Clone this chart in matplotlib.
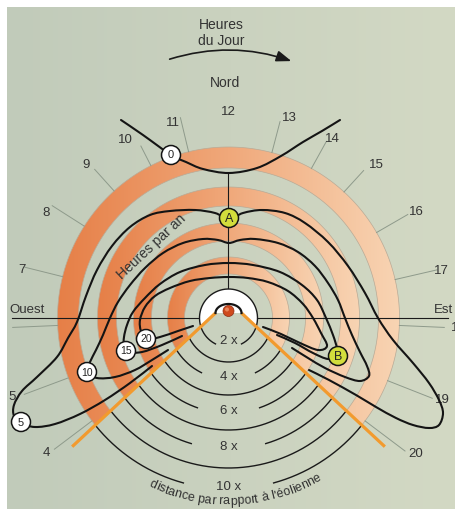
import numpy as np
import matplotlib
matplotlib.use("Agg")
import matplotlib.pyplot as plt
from matplotlib.path import Path
from matplotlib.patches import Circle, Polygon, PathPatch, FancyArrowPatch
from matplotlib.colors import LinearSegmentedColormap
from matplotlib.font_manager import FontProperties, findfont
from matplotlib.ft2font import FT2Font
from matplotlib.transforms import Bbox

plt.rcParams['font.family'] = ['Liberation Sans', 'DejaVu Sans']

# sheet size in px, y runs downwards
W, H = 456, 509
MARGIN = 7
# turbine position
CX, CY = 228.5, 318

# distance circles (multiples of turbine height) -> radius in px
DIST_RADII = [29, 44, 61, 77, 95, 112, 131, 150, 171]
DIST_LABELS = ["2 x", "4 x", "6 x", "8 x", "10 x"]
LABELLED_RADII = [29, 61, 95, 131, 171]
LABEL_GAP = [13, 27, 31, 37, 45]          # half width of the gap left for the label
PLAIN_RADII = [44, 77, 112, 150]
# shaded distance bands (inner, outer)
BANDS = [(150, 171), (112, 131), (77, 95), (44, 61)]

# hour of day around the outer band: label direction (deg, 0 = east), label radius,
# tick direction and tick outer radius
HOURS = ["4", "5", "6", "7", "8", "9", "10", "11", "12", "13", "14", "15", "16", "17", "18", "19", "20"]
HOUR_ANGLES = [216.5, 200, 182.5, 167, 150, 133, 120, 106, 90, 73, 60, 46, 29.5, 12.5, -2.5, -21, -36]
HOUR_RADII = [227, 230, 228, 212, 211, 209, 206, 203, 206, 209, 207, 213, 216, 218, 230, 229, 231]
TICK_ANGLES = [217, 200.5, 182.5, 166, 147.5, 132, 117, 103.5, None, 75.3, 61, 47.5, 30, 13, -2.5, -21.5, -37]
TICK_OUTER = [218, 218, 216, 210, 209, 200, 193, 206, None, 203, 202, 200, 207, 214, 216, 219, 221]

# shadow cone towards the south
APEX_DX, APEX_Y = 13, 313
CONE_ANGLE = 43
RAY_LEN = 196

# iso-lines of shadow hours per year
ISO_0 = [(121, 120), (143, 135), (171, 155), (186, 162), (203, 169), (229, 173),
         (257, 168), (281, 156), (303, 142), (322, 131), (340, 120)]
ISO_5 = [(152, 366), (130, 383), (105, 400), (80, 414), (55, 424), (35, 427), (21, 423),
         (14, 416), (14, 405), (22, 391), (37, 377), (57, 357), (68, 338), (77, 322),
         (86, 296), (97, 270), (112, 246), (130, 227), (150, 215), (170, 211), (195, 210),
         (215, 213), (229, 219), (243, 213), (262, 210), (285, 213), (305, 223), (328, 242),
         (348, 266), (365, 293), (378, 318), (393, 340), (413, 363), (429, 383), (439, 400),
         (443, 413), (439, 425), (429, 428), (413, 425), (396, 418), (376, 407), (356, 395),
         (329, 380), (309, 370)]
ISO_10 = [(168, 350), (152, 360), (135, 370), (115, 377), (97, 378), (87, 372), (90, 362),
          (96, 350), (103, 335), (110, 318), (118, 302), (130, 285), (145, 268), (163, 253),
          (183, 243), (203, 239), (218, 240), (229, 243), (240, 240), (255, 239), (278, 243),
          (298, 252), (315, 266), (328, 283), (338, 300), (345, 318), (352, 335), (360, 352),
          (367, 366), (369, 376), (360, 381), (345, 377), (325, 368), (308, 358), (292, 348)]
ISO_15 = [(182, 336), (162, 345), (142, 352), (128, 352), (124, 346), (124, 337), (127, 325),
          (133, 312), (145, 298), (160, 284), (180, 272), (205, 265), (229, 263), (253, 265),
          (280, 272), (302, 285), (317, 300), (326, 318), (333, 335), (337, 348), (338, 356),
          (328, 359), (313, 353), (295, 343), (277, 335)]
ISO_20 = [(193, 326), (178, 331), (160, 337), (147, 339), (141, 331), (140, 320), (145, 307),
          (155, 296), (170, 288), (190, 281), (210, 278), (229, 277), (248, 278), (268, 282),
          (288, 291), (303, 304), (313, 318), (321, 333), (327, 346), (318, 350), (300, 343),
          (281, 334), (263, 327)]

TAGS = ["0", "5", "10", "15", "20"]
TAG_XY = [(171, 155), (21, 422), (87, 372), (126, 351), (146, 339)]
POINTS = ["A", "B"]
POINT_XY = [(229, 218), (338, 356)]

TXT = '#333333'

fig = plt.figure(figsize=(W / 100, H / 100), dpi=100, facecolor='white')
ax = fig.add_axes([0, 0, 1, 1])
ax.axis('off')

# background panel (display box used to clip the hour labels)
panel_box = Bbox([[MARGIN, 0], [W, H - MARGIN]])
bg_cmap = LinearSegmentedColormap.from_list('bg', ['#c1cbba', '#d3d9c4'])
ax.imshow(np.linspace(0, 1, 256)[None, :], cmap=bg_cmap, extent=[MARGIN, W, H, MARGIN],
          aspect='auto', interpolation='bilinear', zorder=0)

a = np.radians(CONE_ANGLE)
AL = np.array([CX - APEX_DX, APEX_Y])
AR = np.array([CX + APEX_DX, APEX_Y])
dL = np.array([-np.cos(a), np.sin(a)])
dR = np.array([np.cos(a), np.sin(a)])


def in_cone(x, y):
    cl = dL[0] * (y - AL[1]) - dL[1] * (x - AL[0])
    cr = dR[0] * (y - AR[1]) - dR[1] * (x - AR[0])
    return (cl < 0) & (cr > 0) & (y > APEX_Y)


def circle_xy(r, th):
    return CX + r * np.cos(th), CY - r * np.sin(th)


TH = np.radians(np.linspace(-90, 270, 3601))


def outside_arc(r):
    x, y = circle_xy(r, TH)
    keep = ~in_cone(x, y)
    return np.column_stack([x[keep], y[keep]])


def smooth_path(pts):
    p = np.asarray(pts, float)
    ext = np.vstack([p[0], p, p[-1]])
    verts, codes = [p[0]], [Path.MOVETO]
    for i in range(1, len(ext) - 2):
        p0, p1, p2, p3 = ext[i - 1], ext[i], ext[i + 1], ext[i + 2]
        verts += [p1 + (p2 - p0) / 6, p2 - (p3 - p1) / 6, p2]
        codes += [Path.CURVE4] * 3
    return Path(verts, codes)


# shaded bands, each with its own left-to-right shading
band_cmap = LinearSegmentedColormap.from_list('band', ['#e67f47', '#f0a87a', '#f8d4b3'])
for r_in, r_out in BANDS:
    ring = np.vstack([outside_arc(r_out), outside_arc(r_in)[::-1]])
    clip = Polygon(ring, closed=True, transform=ax.transData)
    im = ax.imshow(np.linspace(0, 1, 256)[None, :], cmap=band_cmap,
                   extent=[CX - r_out, CX + r_out, CY + r_out, CY - r_out],
                   aspect='auto', interpolation='bilinear', zorder=1)
    im.set_clip_path(clip)
    ax.add_patch(Polygon(ring, closed=True, fill=False, ec='#b9aa96', lw=0.5, zorder=1.5))

# compass lines
ax.plot([12, CX - 29], [CY, CY], color='#1a1a1a', lw=0.8, zorder=2.5)
ax.plot([CX + 29, 448], [CY, CY], color='#1a1a1a', lw=0.8, zorder=2.5)
ax.plot([CX, CX], [173, CY - 29], color='#1a1a1a', lw=0.8, zorder=2.5)

# white disc around the turbine
disc = np.vstack([outside_arc(DIST_RADII[0]), AL, AR])
ax.add_patch(Polygon(disc, closed=True, fc='white', ec='none', zorder=3))

# distance arcs inside the cone
THB = np.radians(np.linspace(-180, 0, 1801))
for r in PLAIN_RADII:
    x, y = circle_xy(r, THB)
    m = in_cone(x, y)
    ax.plot(np.where(m, x, np.nan), np.where(m, y, np.nan), color='#1a1a1a', lw=1.0, zorder=4)
for r, g, lab in zip(LABELLED_RADII, LABEL_GAP, DIST_LABELS):
    if r == DIST_RADII[0]:
        x, y = circle_xy(r, TH)
        m = (np.abs(x - CX) > g) | (y < CY)
        ly = CY + r - 6
    else:
        x, y = circle_xy(r, THB)
        m = in_cone(x, y) & (np.abs(x - CX) > g)
        ly = CY + r - 2
    ax.plot(np.where(m, x, np.nan), np.where(m, y, np.nan), color='#1a1a1a', lw=1.0, zorder=4)
    ax.text(CX, ly, lab, ha='center', va='center', fontsize=9.5, color=TXT, zorder=4)

# hour ticks and labels
for hr, ang, rl, tang, tout in zip(HOURS, HOUR_ANGLES, HOUR_RADII, TICK_ANGLES, TICK_OUTER):
    if tang is not None:
        x, y = circle_xy(np.array([171, tout]), np.radians(tang))
        ax.plot(x, y, color='#8e9a8b', lw=0.7, zorder=2.4)
    tx, ty = circle_xy(rl, np.radians(ang))
    txt = ax.text(tx, ty, hr, ha='center', va='center', fontsize=9.5, color=TXT, zorder=5)
    txt.set_clip_box(panel_box)
    txt.set_clip_on(True)

# shadow rays
for A, d in ((AL, dL), (AR, dR)):
    ax.plot([A[0], A[0] + RAY_LEN * d[0]], [A[1], A[1] + RAY_LEN * d[1]],
            color='#f29a2e', lw=2.3, solid_capstyle='butt', zorder=5)

# iso-lines
for pts in (ISO_0, ISO_5, ISO_10, ISO_15, ISO_20):
    ax.add_patch(PathPatch(smooth_path(pts), fill=False, ec='#141414', lw=1.5,
                           capstyle='round', joinstyle='round', zorder=6))

for lab, (x, y) in zip(TAGS, TAG_XY):
    ax.add_patch(Circle((x, y), 9.5, fc='white', ec='#141414', lw=1.1, zorder=7))
    ax.text(x, y + 0.5, lab, ha='center', va='center', fontsize=7.5 if len(lab) > 1 else 8,
            color='#222222', zorder=8)
for lab, (x, y) in zip(POINTS, POINT_XY):
    ax.add_patch(Circle((x, y), 9.5, fc='#d2dd3c', ec='#141414', lw=1.1, zorder=7))
    ax.text(x, y + 0.5, lab, ha='center', va='center', fontsize=9, color='#222222', zorder=8)

# turbine symbol
tt = np.linspace(0, np.pi, 60)
dome = np.column_stack([CX + 13 * np.cos(tt), APEX_Y - 9 * np.sin(tt)])
ax.add_patch(Polygon(dome, closed=True, fc='white', ec='none', zorder=8))
ax.plot(dome[:, 0], dome[:, 1], color='#141414', lw=1.6, zorder=8.5)
ax.add_patch(Circle((CX, APEX_Y - 2), 5.5, fc='#cf4a1e', ec='#8c2c12', lw=0.5, zorder=9))
ax.add_patch(Circle((CX - 1.5, APEX_Y - 3.5), 2, fc='#e9865a', ec='none', zorder=9))

# titles
ax.text(221, 33, "Heures\ndu Jour", ha='center', va='center', fontsize=10, color=TXT,
        linespacing=1.2, multialignment='center')
ax.add_patch(FancyArrowPatch((167, 60), (294, 62), connectionstyle='arc3,rad=-0.17',
                             arrowstyle='-|>,head_length=0.6,head_width=0.22',
                             mutation_scale=15, color='#1a1a1a', lw=1.2, zorder=5))
ax.text(225, 83, "Nord", ha='center', va='center', fontsize=10, color=TXT)
ax.text(9, 310, "Ouest", ha='left', va='center', fontsize=9.5, color=TXT)
ax.text(453, 310, "Est", ha='right', va='center', fontsize=9.5, color=TXT)
ax.text(151, 247, "Heures par an", ha='center', va='center', fontsize=10, color=TXT,
        rotation=43, rotation_mode='anchor', zorder=5)


def text_on_arc(s, r, mid_deg, size):
    fp = FontProperties(family=['Liberation Sans'], size=size)
    font = FT2Font(findfont(fp))
    font.set_size(size, fig.dpi)
    adv = np.array([font.load_char(ord(c)).linearHoriAdvance / 65536 for c in s])
    left = np.concatenate([[0], np.cumsum(adv)[:-1]])
    mids = left + adv / 2 - adv.sum() / 2
    for ch, m in zip(s, mids):
        phi = np.radians(mid_deg) + m / r
        x, y = circle_xy(r, phi)
        ax.text(x, y, ch, fontproperties=fp, color=TXT, rotation=np.degrees(phi) + 90,
                rotation_mode='anchor', ha='center', va='center', zorder=5)


text_on_arc("distance par rapport à l'éolienne", 183.5, -87.7, 9)

ax.set_xlim(0, W)
ax.set_ylim(H, 0)
ax.set_aspect('auto')
fig.savefig("out.png", dpi=100, facecolor='white')
